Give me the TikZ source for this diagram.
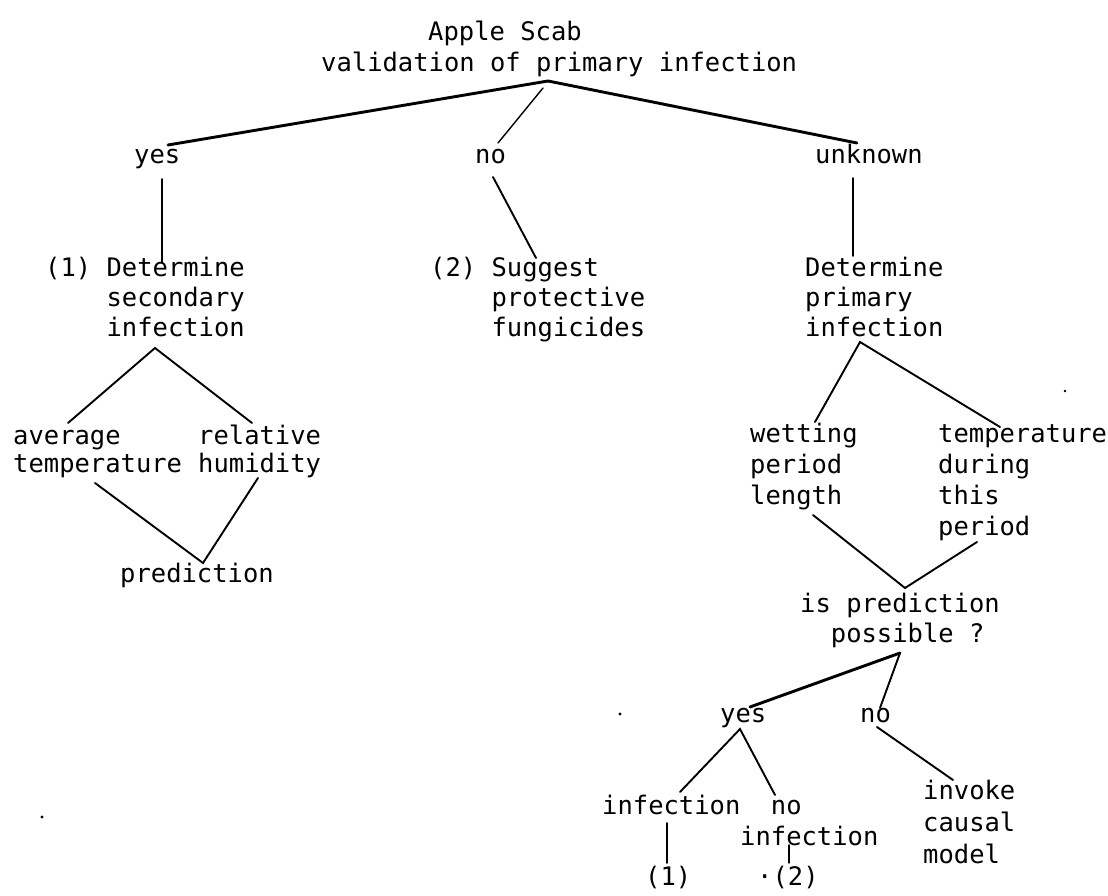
\documentclass[tikz,border=0pt]{standalone}
\usepackage{fontspec}
\newfontfamily\typewriter{DejaVu Sans Mono}
% left-aligned stack of lines whose baseline is the first line
\newcommand\mlines[1]{\begin{tabular}[t]{@{}l@{}}#1\end{tabular}}
\begin{document}
\begin{tikzpicture}[x=1pt,y=-1pt,
  txt/.style={anchor=base west, inner sep=0pt,
    font=\typewriter\fontsize{25.5}{30}\selectfont},
  tight/.style={font=\typewriter\fontsize{25.5}{28.5}\selectfont},
  loose/.style={font=\typewriter\fontsize{25.5}{31}\selectfont},
  link/.style={line width=1.9pt, line cap=round},
  heavy/.style={line width=2.9pt, line cap=round},
  light/.style={line width=1.4pt, line cap=round},
  speck/.style={fill=black, draw=none}]
\useasboundingbox (0,0) rectangle (1108,896);

% ---- title ----
\node[txt] (title) at (428,41) {Apple Scab};
\node[txt] (question) at (321,72) {validation of primary infection};

% ---- first level ----
\node[txt] (yesA) at (134,164) {yes};
\node[txt] (noA) at (475,164) {no};
\node[txt] (unknown) at (815,164) {unknown};

\node[txt] (secondary) at (45,276) {\mlines{(1) Determine\\\phantom{(1) }secondary\\\phantom{(1) }infection}};
\node[txt] (suggest) at (430,276) {\mlines{(2) Suggest\\\phantom{(2) }protective\\\phantom{(2) }fungicides}};
\node[txt] (primary) at (805,276) {\mlines{Determine\\primary\\infection}};

% ---- secondary infection branch ----
\node[txt,tight] (avgtemp) at (13,444) {\mlines{average\\temperature}};
\node[txt,tight] (humidity) at (198,444) {\mlines{relative\\humidity}};
\node[txt] (prediction) at (120,582) {prediction};

% ---- primary infection branch ----
\node[txt,loose] (wetting) at (750,442) {\mlines{wetting\\period\\length}};
\node[txt,loose] (tempperiod) at (938,442) {\mlines{temperature\\during\\this\\period}};
\node[txt] (possible) at (800,612) {\mlines{is prediction\\\phantom{is}possible ?}};

\node[txt] (yesB) at (720,722) {yes};
\node[txt] (noB) at (860,722) {no};
\node[txt] (infection) at (602,814) {infection};
\node[txt,loose] (noinfection) at (740,814) {\mlines{\phantom{in}no\\infection}};
\node[txt,font=\typewriter\fontsize{25.5}{32}\selectfont] (invoke) at (923,799) {\mlines{invoke\\causal\\model}};
\node[txt] (refone) at (645,885) {(1)};
\node[txt] (reftwo) at (757,885) {·(2)};

% ---- junction and end points ----
\coordinate (j0) at (548,81);
\coordinate (j0n) at (543,88);
\coordinate (yesAtop) at (168,145);
\coordinate (noAtop) at (498,143);
\coordinate (unktop) at (857,143);
\coordinate (yesAbot) at (162,179);
\coordinate (secTop) at (162,263);
\coordinate (noAbot) at (493,177);
\coordinate (sugTop) at (536,258);
\coordinate (unkbot) at (853,178);
\coordinate (priTop) at (853,256);

\coordinate (j1) at (155,348);
\coordinate (avgTop) at (68,423);
\coordinate (humTop) at (252,423);
\coordinate (avgBot) at (95,483);
\coordinate (humBot) at (258,478);
\coordinate (j2) at (203,563);

\coordinate (j3) at (860,342);
\coordinate (wetTop) at (815,422);
\coordinate (tmpTop) at (1000,427);
\coordinate (wetBot) at (813,515);
\coordinate (tmpBot) at (977,542);
\coordinate (j4) at (905,588);

\coordinate (j5) at (900,653);
\coordinate (yesBtop) at (750,707);
\coordinate (noBtop) at (880,708);
\coordinate (j6) at (740,729);
\coordinate (infTop) at (680,792);
\coordinate (noinfTop) at (775,795);
\coordinate (noBbot) at (877,727);
\coordinate (invTop) at (953,780);
\coordinate (infBot) at (667,823);
\coordinate (oneTop) at (667,863);
\coordinate (noinfBot) at (789,845);
\coordinate (twoTop) at (789,863);

% ---- connectors ----
\draw[heavy] (j0) -- (yesAtop);
\draw[light] (j0n) -- (noAtop);
\draw[heavy] (j0) -- (unktop);
\draw[link] (yesAbot) -- (secTop);
\draw[link] (noAbot) -- (sugTop);
\draw[link] (unkbot) -- (priTop);

\draw[link] (avgTop) -- (j1) -- (humTop);
\draw[link] (avgBot) -- (j2) -- (humBot);

\draw[link] (wetTop) -- (j3) -- (tmpTop);
\draw[link] (wetBot) -- (j4) -- (tmpBot);

\draw[heavy] (j5) -- (yesBtop);
\draw[link] (j5) -- (noBtop);
\draw[link] (infTop) -- (j6) -- (noinfTop);
\draw[link] (noBbot) -- (invTop);
\draw[link] (infBot) -- (oneTop);
\draw[light] (noinfBot) -- (twoTop);

% ---- loose specks ----
\fill[speck] (42,817) circle (1.6);
\fill[speck] (1065,391) circle (1.4);
\fill[speck] (620,714) circle (1.6);
\end{tikzpicture}
\end{document}
